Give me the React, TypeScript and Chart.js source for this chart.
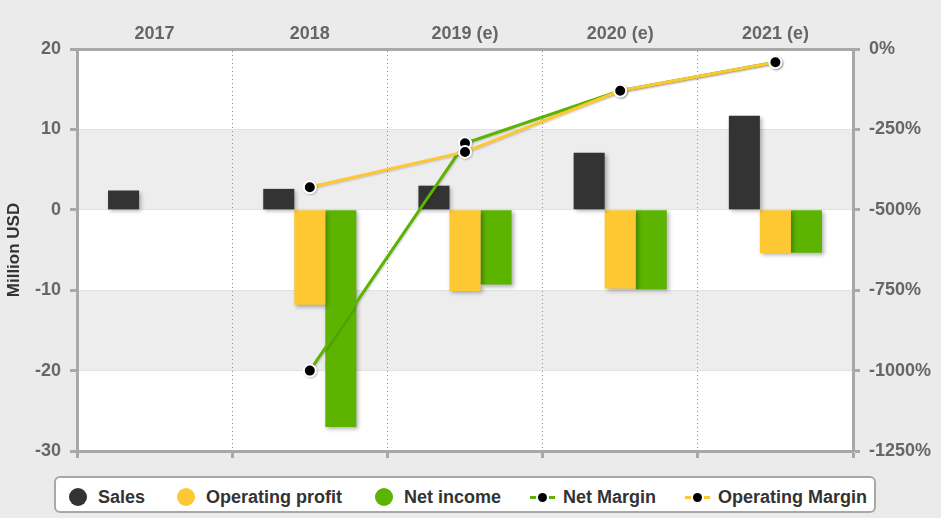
import React, { useEffect, useRef } from "react";
import { Chart, registerables } from "chart.js";

Chart.register(...registerables);

const years = ["2017", "2018", "2019 (e)", "2020 (e)", "2021 (e)"];
const sales = [2.4, 2.6, 3.0, 7.1, 11.7];
const operatingProfit = [null, -11.8, -10.1, -9.8, -5.4];
const netIncome = [null, -27, -9.3, -9.9, -5.35];
const netMargin = [null, -1000, -293, -130, -41];
const operatingMargin = [null, -430, -320, -130, -41];
const usdTicks = [-30, -20, -10, 0, 10, 20];
const marginTicks = [-1250, -1000, -750, -500, -250, 0];

const AXIS = "#a8a8a8";
const DARK = "#333333";
const YELLOW = "#fdc832";
const GREEN = "#5cb300";

// grey bands every other 10M step + white plot area
const bandsPlugin = {
  id: "bands",
  beforeDraw(chart: any) {
    const { ctx, chartArea: a, scales } = chart;
    const y = scales.y;
    ctx.save();
    ctx.fillStyle = "#ffffff";
    ctx.fillRect(a.left, a.top, a.right - a.left, a.bottom - a.top);
    ctx.fillStyle = "#ededed";
    [[10, 0], [-10, -20]].forEach(([hi, lo]) => {
      const t = y.getPixelForValue(hi);
      const b = y.getPixelForValue(lo);
      ctx.fillRect(a.left, t, a.right - a.left, b - t);
    });
    ctx.restore();
  },
};

// soft drop shadow, stronger on bars than on lines
const shadowPlugin = {
  id: "shadow",
  beforeDatasetDraw(chart: any, args: any) {
    const ctx = chart.ctx;
    const isBar = args.meta.type === "bar";
    ctx.save();
    ctx.shadowColor = isBar ? "rgba(0,0,0,0.3)" : "rgba(0,0,0,0.18)";
    ctx.shadowBlur = isBar ? 4 : 2;
    ctx.shadowOffsetX = isBar ? 2 : 1;
    ctx.shadowOffsetY = isBar ? 2 : 1;
  },
  afterDatasetDraw(chart: any) {
    chart.ctx.restore();
  },
};

const legendItems = [
  { label: "Sales", color: DARK, kind: "dot", left: 13 },
  { label: "Operating profit", color: YELLOW, kind: "dot", left: 121 },
  { label: "Net income", color: GREEN, kind: "dot", left: 319 },
  { label: "Net Margin", color: GREEN, kind: "line", left: 474 },
  { label: "Operating Margin", color: YELLOW, kind: "line", left: 629 },
];

const tickFont = { family: "'Liberation Sans', Arial, sans-serif", size: 18, weight: "bold" as const };

export default function App() {
  const chartRef = useRef<HTMLCanvasElement>(null);

  useEffect(() => {
    if (!chartRef.current) return;
    const chart = new Chart(chartRef.current, {
      type: "bar",
      data: {
        labels: years,
        datasets: [
          { label: "Sales", data: sales, backgroundColor: DARK, order: 2, yAxisID: "y" },
          { label: "Operating profit", data: operatingProfit, backgroundColor: YELLOW, order: 2, yAxisID: "y" },
          { label: "Net income", data: netIncome, backgroundColor: GREEN, order: 2, yAxisID: "y" },
          {
            type: "line",
            label: "Net Margin",
            data: netMargin,
            borderColor: GREEN,
            borderWidth: 3,
            pointRadius: 6,
            pointBorderWidth: 2,
            pointBackgroundColor: "#000",
            pointBorderColor: "#fff",
            order: 1,
            yAxisID: "y2",
          },
          {
            type: "line",
            label: "Operating Margin",
            data: operatingMargin,
            borderColor: YELLOW,
            borderWidth: 3,
            pointRadius: 6,
            pointBorderWidth: 2,
            pointBackgroundColor: "#000",
            pointBorderColor: "#fff",
            order: 0,
            yAxisID: "y2",
          },
        ] as any,
      },
      options: {
        animation: false,
        responsive: false,
        layout: { padding: 0 },
        datasets: { bar: { categoryPercentage: 0.6, barPercentage: 1 } },
        plugins: { legend: { display: false }, tooltip: { enabled: false } },
        scales: {
          x: {
            type: "category",
            position: "top",
            offset: true,
            grid: { offset: true, color: "#8f8f8f", lineWidth: 1, drawTicks: false },
            border: { display: true, color: AXIS, width: 3, dash: [1, 3] },
            ticks: { color: "#666", font: tickFont, padding: 4, maxRotation: 0 },
            afterFit: (s: any) => { s.height = 49; },
          },
          xb: {
            type: "category",
            position: "bottom",
            offset: true,
            grid: { offset: true, drawOnChartArea: false, drawTicks: true, tickLength: 7, tickColor: AXIS, tickWidth: 3, color: AXIS },
            border: { display: true, color: AXIS, width: 3 },
            ticks: { display: false },
            afterFit: (s: any) => { s.height = 67; },
          },
          y: {
            position: "left",
            min: usdTicks[0],
            max: usdTicks[usdTicks.length - 1],
            ticks: { stepSize: 10, color: "#666", font: tickFont, padding: 9 },
            grid: { color: "#e2e2e2", tickColor: AXIS, tickWidth: 3, tickLength: 7 },
            border: { display: true, color: AXIS, width: 3 },
            title: {
              display: true,
              text: "Million USD",
              color: DARK,
              font: { family: "'Liberation Sans', Arial, sans-serif", size: 17, weight: "bold" },
              padding: { top: 4, bottom: 0 },
            },
            afterFit: (s: any) => { s.width = 77; },
          },
          y2: {
            position: "right",
            min: marginTicks[0],
            max: marginTicks[marginTicks.length - 1],
            ticks: { stepSize: 250, color: "#666", font: tickFont, padding: 9, callback: (v: any) => v + "%" },
            grid: { drawOnChartArea: false, tickColor: AXIS, tickWidth: 3, tickLength: 7 },
            border: { display: true, color: AXIS, width: 3 },
            afterFit: (s: any) => { s.width = 88; },
          },
        } as any,
      },
      plugins: [bandsPlugin, shadowPlugin],
    });
    return () => {
      chart.destroy();
    };
  }, []);

  return (
    <div style={{ position: "fixed", left: 0, top: 0, width: 941, height: 518, background: "#ebebeb" }}>
      <canvas ref={chartRef} width={941} height={518} />
      <div
        style={{
          position: "absolute",
          left: 54,
          top: 476,
          width: 818,
          height: 33,
          border: `2px solid ${AXIS}`,
          borderRadius: 6,
          background: "#fff",
          fontFamily: "'Liberation Sans', Arial, sans-serif",
          fontWeight: "bold",
          fontSize: 18,
          color: DARK,
        }}
      >
        {legendItems.map((it) => (
          <div
            key={it.label}
            style={{ position: "absolute", left: it.left, top: 9, height: 20, display: "flex", alignItems: "center", whiteSpace: "nowrap" }}
          >
            {it.kind === "dot" ? (
              <span style={{ width: 18, height: 18, borderRadius: 9, background: it.color, marginRight: 11 }} />
            ) : (
              <span style={{ display: "flex", alignItems: "center", width: 25, marginRight: 8 }}>
                <span style={{ width: 6, height: 3, background: it.color }} />
                <span style={{ width: 9, height: 9, borderRadius: 5, background: "#000", margin: "0 2px" }} />
                <span style={{ width: 6, height: 3, background: it.color }} />
              </span>
            )}
            <span>{it.label}</span>
          </div>
        ))}
      </div>
    </div>
  );
}
